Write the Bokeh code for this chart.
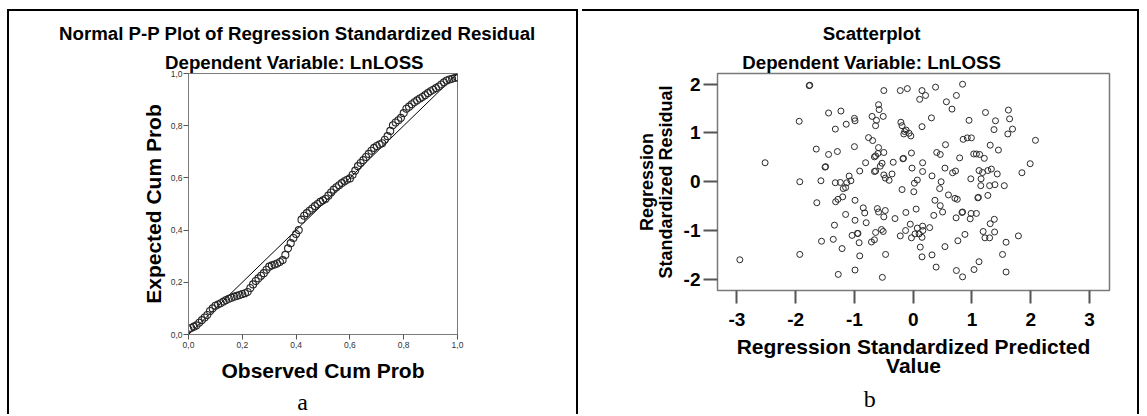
from bokeh.plotting import figure
from bokeh.models import Range1d, Title, FixedTicker, CustomJSTickFormatter
from bokeh.embed import file_html
from bokeh.resources import INLINE

FONT = "Liberation Sans"

# ---------------- Panel a: Normal P-P plot ----------------
pp_observed = [0.00, 0.01, 0.02, 0.03, 0.04, 0.05, 0.06, 0.07, 0.08, 0.09,
               0.10, 0.11, 0.12, 0.13, 0.14, 0.15, 0.16, 0.17, 0.18, 0.19,
               0.20, 0.21, 0.22, 0.23, 0.24, 0.25, 0.26, 0.27, 0.28, 0.29,
               0.30, 0.31, 0.32, 0.33, 0.34, 0.35, 0.36, 0.37, 0.38, 0.39,
               0.40, 0.41, 0.42, 0.43, 0.44, 0.45, 0.46, 0.47, 0.48, 0.49,
               0.50, 0.51, 0.52, 0.53, 0.54, 0.55, 0.56, 0.57, 0.58, 0.59,
               0.60, 0.61, 0.62, 0.63, 0.64, 0.65, 0.66, 0.67, 0.68, 0.69,
               0.70, 0.71, 0.72, 0.73, 0.74, 0.75, 0.76, 0.77, 0.78, 0.79,
               0.80, 0.81, 0.82, 0.83, 0.84, 0.85, 0.86, 0.87, 0.88, 0.89,
               0.90, 0.91, 0.92, 0.93, 0.94, 0.95, 0.96, 0.97, 0.98, 0.99, 1.00]
pp_expected = [0.020, 0.025, 0.030, 0.035, 0.045, 0.055, 0.065, 0.075, 0.090, 0.100,
               0.110, 0.115, 0.120, 0.126, 0.132, 0.137, 0.141, 0.145, 0.148, 0.151,
               0.155, 0.158, 0.163, 0.178, 0.192, 0.205, 0.215, 0.225, 0.235, 0.248,
               0.260, 0.265, 0.268, 0.272, 0.278, 0.285, 0.305, 0.330, 0.350, 0.370,
               0.385, 0.400, 0.440, 0.455, 0.465, 0.474, 0.483, 0.492, 0.500, 0.508,
               0.514, 0.520, 0.532, 0.544, 0.555, 0.564, 0.572, 0.580, 0.587, 0.593,
               0.598, 0.612, 0.628, 0.645, 0.657, 0.668, 0.680, 0.692, 0.704, 0.715,
               0.722, 0.728, 0.733, 0.746, 0.760, 0.780, 0.802, 0.812, 0.821, 0.830,
               0.848, 0.865, 0.873, 0.882, 0.890, 0.897, 0.904, 0.910, 0.917, 0.925,
               0.932, 0.938, 0.944, 0.950, 0.958, 0.966, 0.973, 0.977, 0.980, 0.983, 0.985]
pp_ticks = [0.0, 0.2, 0.4, 0.6, 0.8, 1.0]
ref_line = [0.0, 1.0]

# ---------------- Panel b: residual scatterplot ----------------
pred_value = [
    -1.77, -1.76, -0.50, -0.22, -0.59, -0.58, -0.51, -0.70, -0.625, -0.64,
    -1.44, -1.23, -1.94, -1.00, -0.99, -1.14, -1.325, -0.21, -0.19, -0.12,
    -0.16, -0.07, -0.04, -0.145, -0.76, -0.69, -1.65, -1.44, -1.29, -1.00,
    -0.59, -0.60, -0.50, -0.64, -0.66, -0.175, -0.165, -0.34, -0.81, -2.52,
    -1.50, -1.49, -0.53, -0.56, -0.64, -0.66, -0.36, -0.41, -0.50, -0.475,
    -0.91, -1.09, -1.06, -1.13, -1.15, -1.19, -1.24, -1.325, -1.57, -1.93,
    -0.19, -1.64, -1.20, -1.28, -1.32, -0.99, -0.85, -0.825, -0.61, -0.59,
    -0.475, -0.50, -0.31, -1.15, -0.99, -0.80, -1.34, -0.22, -0.54, -0.51,
    -0.64, -0.95, -0.94, -1.04, -0.66, -0.71, -0.92, -1.36, -1.56, -1.21,
    -0.47, -0.91, -1.93, -2.95, -0.99, -1.275, -0.525, -0.125,
    -0.10, 0.15, 0.38, 0.84, 0.11, 0.21, 0.565, 0.735, 0.66, 0.31,
    0.15, 1.23, 0.95, 1.62, 1.40, 1.64, 1.375, 1.69, 1.61, 2.08,
    0.85, 0.92, 0.99, 0.55, 1.31, 1.45, -0.03, 0.40, 0.46, 0.79,
    1.03, 1.075, 1.13, 1.21, -0.02, 0.16, 0.16, 0.32, 0.54, 0.67,
    0.72, 1.12, 1.18, 1.27, 1.33, 1.43, 1.85, 1.99, 0.98, 1.155,
    1.15, 1.30, 1.39, 1.55, 0.07, 0.02, 0.01, 0.45, 0.475, 0.60,
    0.71, 0.75, 1.10, 1.11, 1.27, 0.37, 0.46, 0.50, 0.05, 0.35,
    0.73, 0.83, 0.84, 0.985, 1.075, 0.97, 1.31, 1.38, -0.05, -0.13,
    0.07, 0.16, 0.165, 0.28, -0.03, 0.03, 0.10, 0.15, 0.88, 0.76,
    1.19, 1.22, 1.30, 1.385, 1.58, 1.79, 0.12, 0.54, 0.15, 0.32,
    1.12, 1.52, 0.39, 0.735, 0.84, 1.035, 1.58]
resid_value = [
    1.97, 1.98, 1.87, 1.87, 1.58, 1.48, 1.34, 1.34, 1.26, 1.15,
    1.41, 1.45, 1.24, 1.30, 1.25, 1.18, 1.08, 1.22, 1.15, 1.06,
    0.98, 0.995, 0.94, 1.03, 0.905, 0.845, 0.67, 0.56, 0.62, 0.72,
    0.70, 0.58, 0.60, 0.53, 0.51, 0.47, 0.48, 0.40, 0.39, 0.39,
    0.30, 0.31, 0.38, 0.32, 0.22, 0.21, 0.16, 0.03, 0.14, 0.075,
    0.22, 0.117, 0.02, -0.02, -0.12, -0.14, -0.014, -0.02, 0.02, 0.00,
    -0.16, -0.43, -0.31, -0.36, -0.41, -0.38, -0.535, -0.64, -0.55, -0.62,
    -0.59, -0.72, -0.755, -0.67, -0.79, -0.84, -0.89, -1.11, -0.98, -1.02,
    -1.04, -1.06, -1.06, -1.10, -1.19, -1.235, -1.25, -1.18, -1.22, -1.37,
    -1.49, -1.52, -1.49, -1.60, -1.81, -1.90, -1.96, -0.63,
    1.91, 1.87, 1.94, 2.00, 1.69, 1.77, 1.64, 1.77, 1.49, 1.31,
    1.13, 1.42, 1.26, 1.47, 1.25, 1.29, 1.07, 1.08, 0.98, 0.85,
    0.87, 0.90, 0.90, 0.76, 0.75, 0.65, 0.59, 0.60, 0.56, 0.49,
    0.57, 0.57, 0.56, 0.48, 0.28, 0.39, 0.21, 0.12, 0.28, 0.185,
    0.22, 0.23, 0.19, 0.23, 0.26, 0.16, 0.185, 0.37, 0.06, 0.06,
    -0.08, -0.08, -0.06, -0.08, 0.035, -0.03, -0.205, -0.14, 0.00, -0.27,
    -0.34, -0.36, -0.33, -0.32, -0.28, -0.38, -0.49, -0.62, -0.56, -0.69,
    -0.74, -0.63, -0.62, -0.65, -0.65, -0.76, -0.86, -0.77, -0.87, -1.00,
    -0.95, -0.91, -1.00, -0.94, -1.15, -1.07, -1.07, -1.14, -1.08, -1.21,
    -1.02, -1.15, -1.15, -1.03, -1.24, -1.11, -1.34, -1.33, -1.54, -1.50,
    -1.64, -1.49, -1.75, -1.82, -1.95, -1.80, -1.85]
sc_xticks = [-3, -2, -1, 0, 1, 2, 3]
sc_yticks = [-2, -1, 0, 1, 2]

H = 405
W1 = 571
W2 = 557
BORDER = "2px solid #000000"
TSIZE = "18.7px"


def add_title(p, txt, offset, standoff, side="above", size=TSIZE, bold=True,
              font=FONT, valign="bottom"):
    p.add_layout(Title(text=txt, align="left", offset=offset, standoff=standoff,
                       vertical_align=valign,
                       text_font=font, text_font_style="bold" if bold else "normal",
                       text_font_size=size, text_color="#000000"), side)


def add_spacer(p, standoff):
    # empty band between the axis and the panel caption
    p.add_layout(Title(text=" ", standoff=standoff, text_font_size="1px"), "below")


# ---------- figure a ----------
p1 = figure(width=W1, height=H, x_range=Range1d(0, 1), y_range=Range1d(0, 1),
            output_backend="svg", toolbar_location=None,
            min_border_left=179, min_border_right=123,
            min_border_top=62, min_border_bottom=82)
p1.grid.visible = False
p1.outline_line_color = "#7a7a7a"
p1.outline_line_width = 1
p1.background_fill_color = "white"
p1.border_fill_color = "white"
p1.styles = {"position": "absolute", "left": "7px", "top": "9px",
             "border-top": BORDER, "border-left": BORDER, "border-right": BORDER}

fmt = CustomJSTickFormatter(code="return tick.toFixed(1).replace('.', ',');")
for ax in (p1.xaxis[0], p1.yaxis[0]):
    ax.ticker = FixedTicker(ticks=pp_ticks)
    ax.formatter = fmt
    ax.major_label_text_font = FONT
    ax.major_label_text_font_size = "8.5px"
    ax.major_label_text_color = "#333333"
    ax.major_tick_out = 5
    ax.major_tick_in = 0
    ax.minor_tick_out = 0
    ax.minor_tick_in = 0
    ax.major_tick_line_color = "#555555"
    ax.axis_line_color = "#7a7a7a"
    ax.axis_label_text_font = FONT
    ax.axis_label_text_font_style = "bold"
    ax.axis_label_text_font_size = "21px"
    ax.axis_label_text_color = "#000000"
p1.xaxis.major_label_standoff = 2
p1.yaxis.major_label_standoff = 1
p1.xaxis.axis_label = "Observed Cum Prob"
p1.yaxis.axis_label = "Expected Cum Prob"
p1.xaxis.axis_label_standoff = 8
p1.yaxis.axis_label_standoff = 3

p1.line(ref_line, ref_line, line_color="#000000", line_width=1)
p1.scatter(pp_observed, pp_expected, marker="circle", size=7,
           fill_color=None, line_color="#262626", line_width=1.1)

add_title(p1, "Dependent Variable: LnLOSS", -23.5, 2)
add_title(p1, "Normal P-P Plot of Regression Standardized Residual", -129.5, 10)
add_title(p1, "a", 108.7, 4, side="below", size="24px", bold=False,
          font="Liberation Serif", valign="bottom")

# ---------- figure b ----------
p2 = figure(width=W2, height=H, x_range=Range1d(-3.33, 3.34), y_range=Range1d(-2.23, 2.22),
            output_backend="svg", toolbar_location=None,
            min_border_left=135, min_border_right=30,
            min_border_top=62, min_border_bottom=126)
p2.grid.visible = False
p2.outline_line_color = "#7a7a7a"
p2.outline_line_width = 1.5
p2.background_fill_color = "white"
p2.border_fill_color = "white"
p2.styles = {"position": "absolute", "left": "582px", "top": "9px",
             "border-top": BORDER, "border-right": BORDER}

int_fmt = CustomJSTickFormatter(code="return String(tick);")
p2.xaxis.ticker = FixedTicker(ticks=sc_xticks)
p2.yaxis.ticker = FixedTicker(ticks=sc_yticks)
for ax in (p2.xaxis[0], p2.yaxis[0]):
    ax.formatter = int_fmt
    ax.major_label_text_font = FONT
    ax.major_label_text_font_style = "bold"
    ax.major_label_text_font_size = "19px"
    ax.major_label_text_color = "#000000"
    ax.major_tick_in = 0
    ax.minor_tick_out = 0
    ax.minor_tick_in = 0
    ax.major_tick_line_color = "#555555"
    ax.major_tick_line_width = 2
    ax.axis_line_color = None
    ax.axis_label_text_font = FONT
    ax.axis_label_text_font_style = "bold"
    ax.axis_label_text_color = "#000000"
p2.xaxis.major_tick_out = 13
p2.yaxis.major_tick_out = 14
p2.xaxis.major_label_standoff = 9
p2.yaxis.major_label_standoff = 3
p2.xaxis.axis_label = "Regression Standardized Predicted\nValue"
p2.xaxis.axis_label_text_font_size = "21px"
p2.xaxis.axis_label_text_line_height = 0.83
p2.xaxis.axis_label_standoff = 6
p2.yaxis.axis_label = "Regression\nStandardized Residual"
p2.yaxis.axis_label_text_font_size = "18px"
p2.yaxis.axis_label_text_line_height = 0.95
p2.yaxis.axis_label_standoff = 5

p2.scatter(pred_value, resid_value, marker="circle", size=6,
           fill_color=None, line_color="#2a2a2a", line_width=1)

add_title(p2, "Dependent Variable: LnLOSS", 24.8, 2)
add_title(p2, "Scatterplot", 105.3, 10)
add_spacer(p2, 1)
add_title(p2, "b", 146.3, 0, side="below", size="24px", bold=False,
          font="Liberation Serif", valign="bottom")

open("out.html", "w").write(file_html([p1, p2], INLINE))
